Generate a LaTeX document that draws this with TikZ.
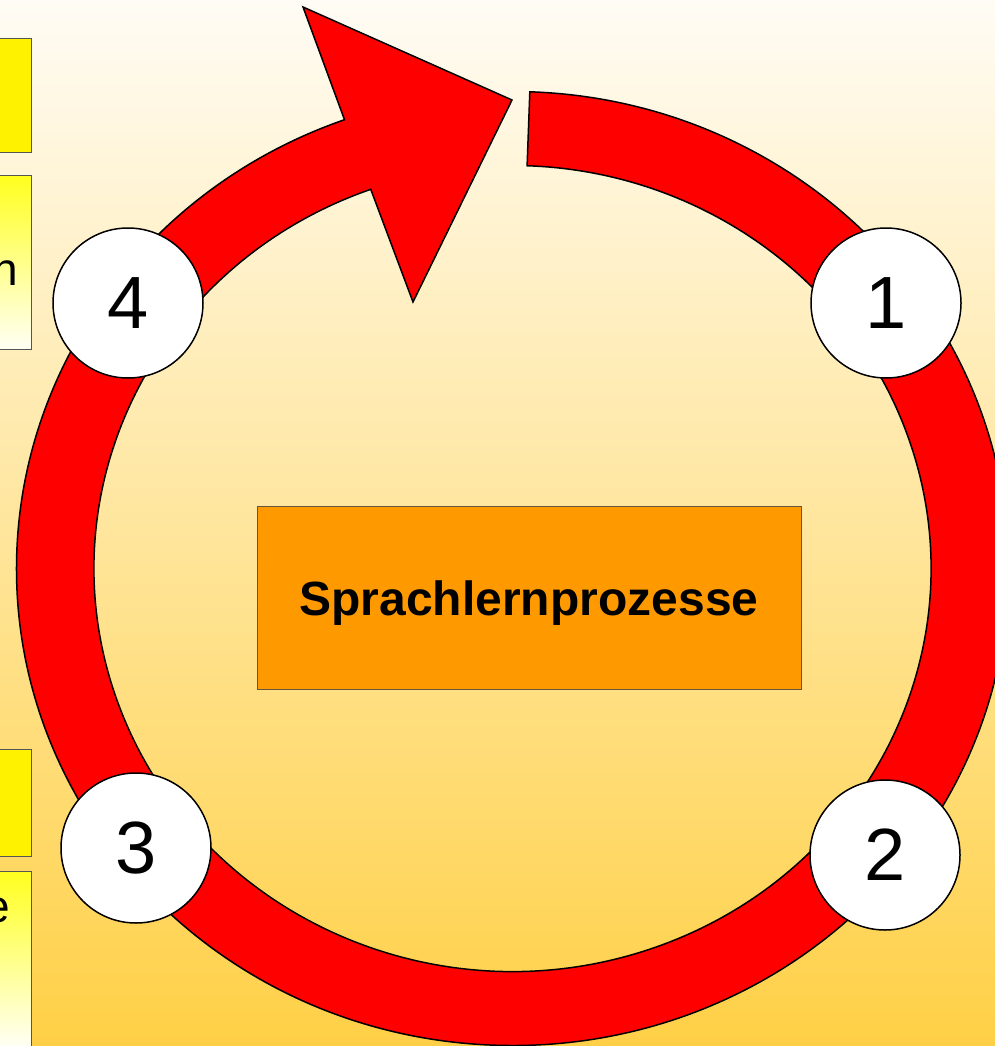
\documentclass[tikz,border=0pt]{standalone}
\usepackage{fontspec}
\setmainfont{Liberation Sans}
\newfontfamily\labelfont{Liberation Sans}
\usetikzlibrary{calc}
\definecolor{bgtop}{RGB}{255,252,245}
\definecolor{bgmid}{RGB}{254,228,168}
\definecolor{bgbot}{RGB}{255,208,70}
\definecolor{ringred}{RGB}{255,0,0}
\definecolor{boxorange}{RGB}{255,153,0}
\definecolor{boxedge}{RGB}{100,85,60}
\definecolor{sideedge}{RGB}{85,85,85}
\definecolor{paleyellow}{RGB}{255,255,245}
\definecolor{brightyellow}{RGB}{255,255,30}
\begin{document}
\begin{tikzpicture}[x=1pt,y=1pt,
  ringstyle/.style={fill=ringred,draw=black,line width=1.5pt,line join=miter},
  numcircle/.style={circle,draw=black,fill=white,line width=1.5pt,minimum size=150pt,inner sep=0pt,
     font=\labelfont\fontsize{74}{74}\selectfont},
  centerbox/.style={rectangle,draw=boxedge,fill=boxorange,line width=1pt,minimum width=544pt,minimum height=183pt,inner sep=0pt},
  sidebox/.style={rectangle,draw=sideedge,fill=yellow,line width=1pt,inner sep=0pt,minimum width=62pt},
  sidegrad/.style={rectangle,draw=sideedge,top color=brightyellow,bottom color=paleyellow,line width=1pt,inner sep=0pt,minimum width=62pt},
  sidetext/.style={inner sep=0pt,font=\labelfont\fontsize{46}{46}\selectfont}
]
\useasboundingbox (0,0) rectangle (995,-1046);
\shade[top color=bgtop,middle color=bgmid,bottom color=bgbot] (0,0) rectangle (995,-1046);

% side boxes (cut off at the left edge)
\node[sidebox,minimum height=113pt] (boxA) at (0,-95.5) {};
\node[sidegrad,minimum height=174pt] (boxB) at (0,-262) {};
\node[sidebox,minimum height=107pt] (boxC) at (0,-802.5) {};
\node[sidegrad,minimum height=176pt] (boxD) at (0,-959) {};
\node[sidetext,anchor=base east] (txtB) at (18,-285) {n};
\node[sidetext,anchor=base east] (txtD) at (10,-922) {e};

% ring with arrow head
\coordinate (C) at (512.5,-568.5);
\draw[ringstyle]
  ($(C)+(88:496pt and 477pt)$)
  arc[start angle=88,end angle=-250.2,x radius=496pt,y radius=477pt]
  -- (303,-7) -- (512,-100) -- (413,-302)
  -- ($(C)+(109.8:418.5pt and 403pt)$)
  arc[start angle=109.8,end angle=448,x radius=418.5pt,y radius=403pt]
  -- cycle;

% numbered circles
\node[numcircle] (n1) at (886,-303) {1};
\node[numcircle] (n2) at (885,-855) {2};
\node[numcircle] (n3) at (136,-848) {3};
\node[numcircle] (n4) at (128,-303) {4};

% center box
\node[centerbox] (center) at (529,-597.5) {};
\node[anchor=base,inner sep=0pt,font=\labelfont\bfseries\fontsize{48}{48}\selectfont] (centertext) at (529,-615) {Sprachlernprozesse};
\end{tikzpicture}
\end{document}
